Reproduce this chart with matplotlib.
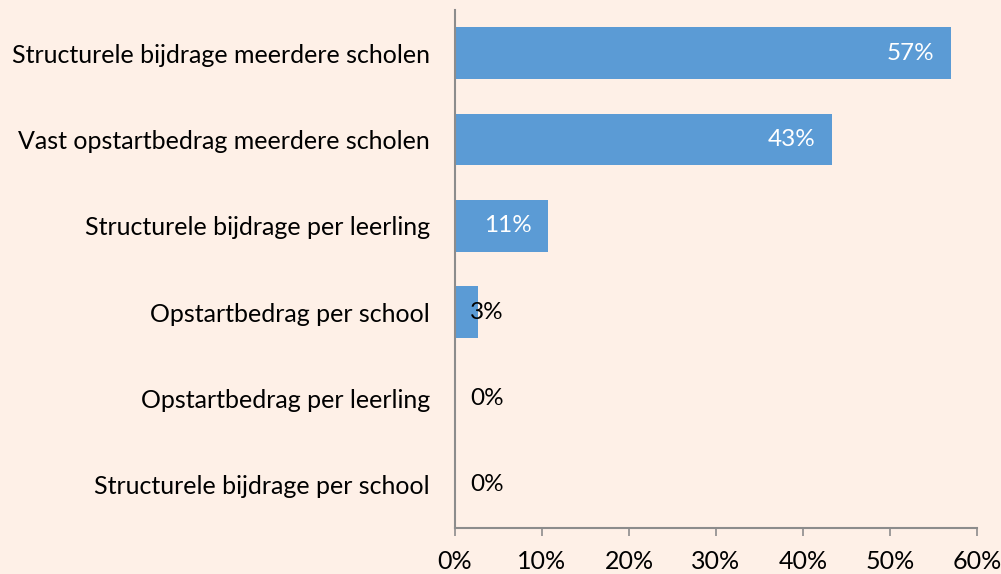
import matplotlib
matplotlib.use("Agg")
import matplotlib.pyplot as plt
from matplotlib.ticker import FuncFormatter

categories = [
    "Structurele bijdrage meerdere scholen",
    "Vast opstartbedrag meerdere scholen",
    "Structurele bijdrage per leerling",
    "Opstartbedrag per school",
    "Opstartbedrag per leerling",
    "Structurele bijdrage per school",
]
values = [57.0, 43.3, 10.7, 2.7, 0.0, 0.0]
labels = ["57%", "43%", "11%", "3%", "0%", "0%"]
xticks = [0, 10, 20, 30, 40, 50, 60]

bg = "#FEF0E7"
bar_color = "#5B9BD5"
axis_color = "#8C8C8C"

plt.rcParams['font.family'] = ['Lato', 'DejaVu Sans']

W, H = 1001, 574
fig = plt.figure(figsize=(W / 100, H / 100), dpi=100, facecolor=bg)
ax = fig.add_axes([455 / W, (H - 528) / H, (977 - 455) / W, (528 - 10) / H])
ax.set_facecolor(bg)

n = len(categories)
ypos = list(range(n))
ax.barh(ypos, values, height=0.6, color=bar_color)
ax.set_ylim(n - 0.5, -0.5)
ax.set_xlim(0, 60)

for y, v, lab in zip(ypos, values, labels):
    if v > 8:
        ax.annotate(lab, xy=(v, y), xytext=(-12, 0), textcoords="offset points",
                    ha="right", va="center", color="white", fontsize=17.5)
    else:
        ax.annotate(lab, xy=(0, y), xytext=(11, 0), textcoords="offset points",
                    ha="left", va="center", color="black", fontsize=17.5)

ax.set_yticks(ypos)
ax.set_yticklabels(categories, fontsize=18)
ax.set_xticks(xticks)
ax.xaxis.set_major_formatter(FuncFormatter(lambda x, p: f"{int(x)}%"))
ax.tick_params(axis='x', labelsize=18, length=6, width=1.2, color=axis_color, pad=10)
ax.tick_params(axis='y', length=0, pad=18)

for s in ["top", "right"]:
    ax.spines[s].set_visible(False)
for s in ["left", "bottom"]:
    ax.spines[s].set_color(axis_color)
    ax.spines[s].set_linewidth(1.5)

fig.savefig("out.png", dpi=100, facecolor=bg)
